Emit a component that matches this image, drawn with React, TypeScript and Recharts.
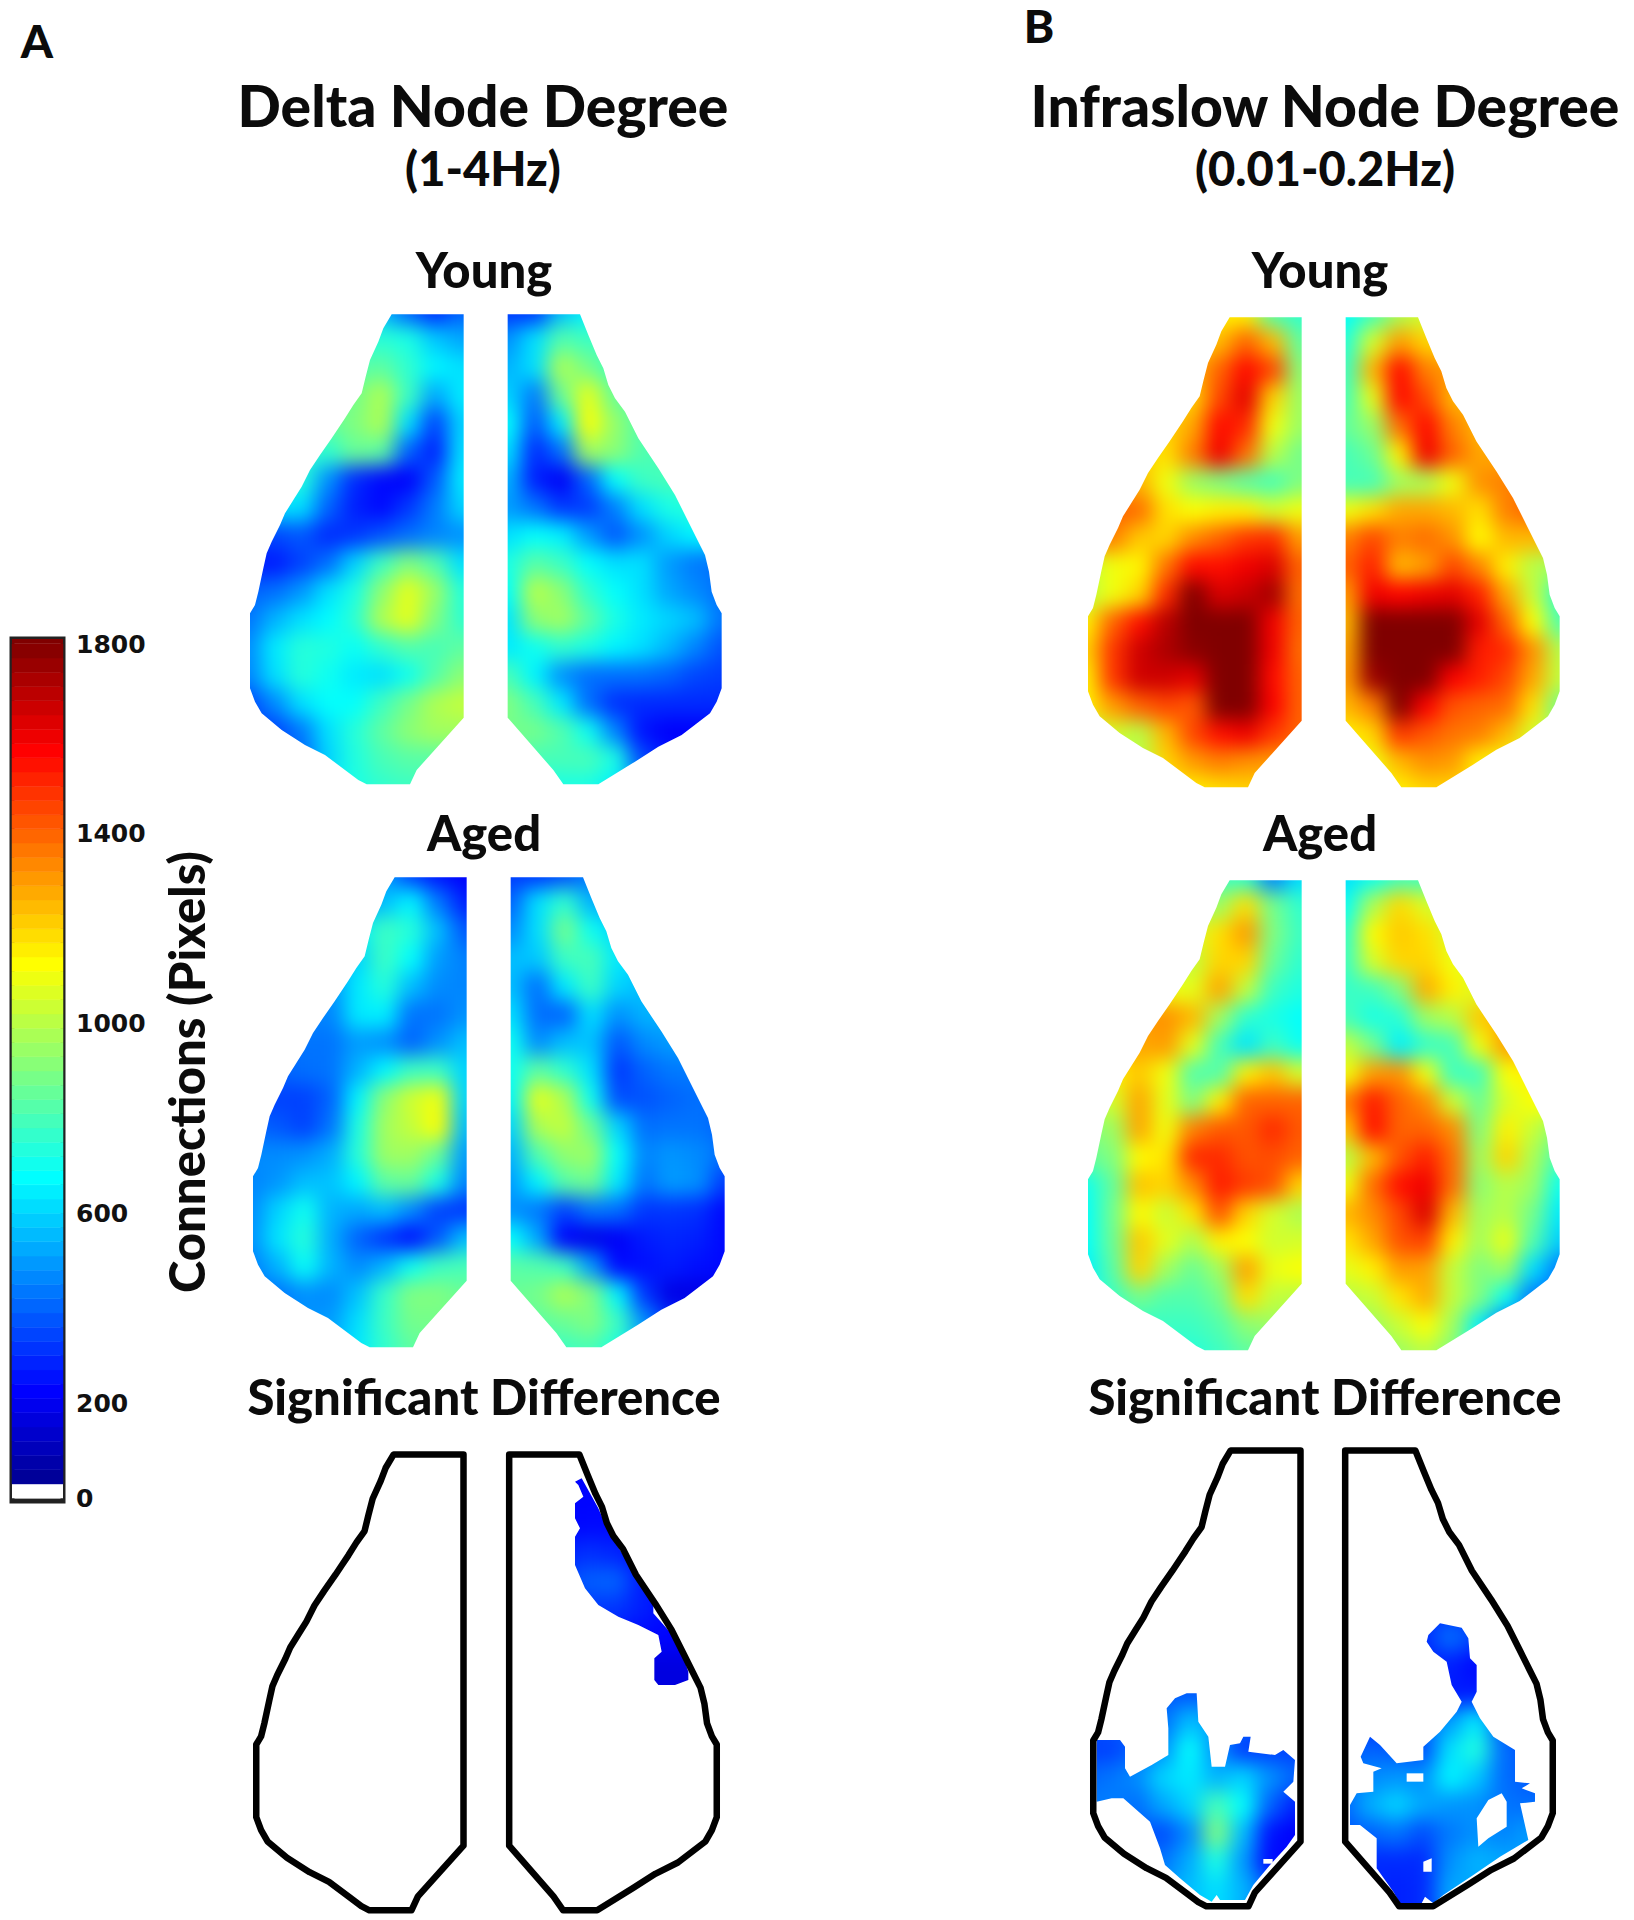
import { Bar, BarChart, ReferenceArea, Scatter, ScatterChart, XAxis, YAxis } from "recharts";

// grid of the heat maps, in 1/3 px units of one map frame
const rowYs = [20, 104, 188, 272, 356, 440, 524, 608, 692, 776, 860, 944, 1028, 1112, 1196, 1280, 1364, 1448];
const leftCols = [10, 90, 170, 250, 330, 410, 490, 570, 650];
const rightCols = [790, 870, 950, 1030, 1110, 1190, 1270, 1350, 1430];

const leftOutlineX = [440, 656, 656, 515, 495, 365, 340, 300, 240, 180, 110, 50, 30, 15, 15, 30, 40, 55, 65, 80, 105, 120, 145, 170, 195, 225, 260, 280, 300, 325, 350, 362, 375, 400, 415, 440];
const leftOutlineY = [28, 28, 1238, 1395, 1438, 1438, 1425, 1395, 1350, 1320, 1275, 1225, 1190, 1150, 925, 900, 860, 790, 745, 710, 660, 625, 585, 545, 495, 450, 400, 370, 340, 300, 265, 215, 165, 110, 70, 28];
const rightOutlineX = [788, 1005, 1030, 1055, 1075, 1090, 1110, 1140, 1180, 1240, 1290, 1330, 1360, 1380, 1392, 1400, 1415, 1430, 1430, 1415, 1395, 1310, 1240, 1170, 1060, 955, 925, 788, 788];
const rightOutlineY = [28, 28, 90, 150, 190, 240, 280, 320, 400, 490, 570, 650, 710, 750, 800, 860, 900, 925, 1150, 1190, 1225, 1290, 1325, 1370, 1438, 1438, 1395, 1238, 28];

const deltaYoungLeft = [
  [600, 600, 600, 600, 600, 550, 400, 300, 400],
  [700, 700, 700, 700, 700, 750, 720, 580, 520],
  [800, 800, 800, 800, 820, 840, 760, 660, 620],
  [850, 850, 850, 850, 880, 980, 780, 520, 640],
  [850, 850, 850, 850, 900, 980, 620, 340, 600],
  [750, 750, 750, 760, 860, 840, 400, 280, 620],
  [700, 700, 740, 480, 300, 240, 220, 380, 640],
  [620, 620, 620, 400, 280, 240, 320, 440, 600],
  [350, 350, 380, 300, 320, 370, 420, 460, 480],
  [280, 270, 340, 420, 600, 780, 900, 820, 620],
  [400, 420, 490, 620, 720, 920, 1080, 950, 740],
  [430, 540, 620, 670, 750, 980, 1080, 900, 760],
  [470, 640, 740, 730, 690, 760, 820, 800, 840],
  [460, 620, 740, 700, 640, 620, 700, 820, 920],
  [350, 470, 620, 680, 680, 780, 880, 980, 1020],
  [320, 340, 440, 620, 740, 840, 920, 960, 960],
  [400, 400, 400, 600, 730, 800, 830, 830, 830],
  [600, 600, 600, 640, 720, 760, 780, 780, 780],
];
const deltaYoungRight = [
  [320, 320, 560, 660, 660, 660, 660, 660, 660],
  [480, 620, 820, 780, 780, 780, 780, 780, 780],
  [540, 620, 980, 880, 780, 780, 780, 780, 780],
  [600, 440, 860, 1080, 860, 800, 800, 800, 800],
  [680, 380, 640, 1120, 940, 820, 800, 800, 800],
  [620, 300, 420, 960, 920, 820, 800, 800, 800],
  [540, 280, 210, 400, 680, 780, 800, 780, 780],
  [500, 430, 320, 330, 450, 620, 720, 740, 740],
  [620, 680, 650, 500, 380, 480, 600, 660, 660],
  [720, 830, 780, 680, 620, 620, 500, 440, 420],
  [680, 1000, 920, 760, 680, 620, 520, 470, 420],
  [630, 920, 960, 840, 720, 640, 600, 560, 430],
  [640, 700, 760, 720, 660, 620, 550, 460, 370],
  [800, 660, 480, 420, 420, 420, 400, 350, 330],
  [900, 800, 640, 420, 310, 300, 300, 300, 300],
  [880, 880, 820, 700, 460, 260, 220, 220, 220],
  [800, 800, 800, 800, 720, 360, 260, 260, 260],
  [700, 700, 720, 720, 650, 500, 400, 400, 400],
];
const deltaAgedLeft = [
  [500, 500, 500, 500, 500, 500, 340, 260, 220],
  [500, 500, 500, 500, 500, 560, 660, 440, 280],
  [600, 600, 600, 600, 640, 780, 740, 560, 380],
  [520, 520, 520, 520, 600, 780, 680, 500, 450],
  [480, 480, 480, 480, 640, 740, 560, 470, 460],
  [460, 460, 460, 460, 640, 650, 430, 430, 480],
  [430, 430, 430, 430, 500, 480, 400, 480, 560],
  [400, 400, 420, 430, 540, 660, 780, 780, 600],
  [340, 340, 340, 400, 660, 920, 1040, 1100, 600],
  [400, 380, 340, 430, 720, 960, 1020, 1120, 560],
  [470, 470, 480, 530, 740, 950, 960, 860, 500],
  [460, 490, 560, 570, 660, 840, 860, 720, 460],
  [470, 600, 700, 540, 520, 560, 470, 340, 320],
  [480, 630, 740, 530, 400, 320, 250, 380, 560],
  [450, 540, 690, 540, 470, 540, 700, 780, 800],
  [420, 430, 480, 470, 570, 770, 900, 900, 860],
  [480, 480, 480, 500, 620, 780, 880, 880, 880],
  [520, 520, 520, 540, 640, 760, 840, 840, 840],
];
const deltaAgedRight = [
  [330, 320, 360, 440, 440, 440, 440, 440, 440],
  [400, 620, 760, 540, 500, 500, 500, 500, 500],
  [470, 620, 880, 700, 600, 600, 600, 600, 600],
  [560, 580, 780, 800, 640, 600, 600, 600, 600],
  [560, 420, 640, 780, 600, 560, 560, 560, 560],
  [620, 420, 400, 620, 480, 540, 540, 540, 540],
  [700, 470, 560, 570, 380, 470, 500, 500, 500],
  [700, 840, 760, 620, 320, 400, 440, 440, 440],
  [660, 1080, 980, 700, 360, 370, 400, 420, 420],
  [600, 980, 1020, 860, 600, 420, 430, 430, 400],
  [540, 820, 930, 950, 680, 460, 490, 470, 420],
  [500, 660, 830, 870, 640, 430, 500, 480, 330],
  [480, 440, 340, 430, 420, 320, 320, 310, 240],
  [680, 520, 220, 190, 210, 270, 290, 280, 240],
  [830, 820, 780, 500, 240, 250, 270, 250, 240],
  [860, 880, 980, 900, 660, 320, 180, 180, 180],
  [840, 840, 860, 900, 780, 480, 300, 300, 300],
  [760, 760, 780, 800, 720, 560, 420, 420, 420],
];
const infraYoungLeft = [
  [1150, 1150, 1150, 1150, 1150, 1150, 1150, 830, 760],
  [1200, 1200, 1200, 1200, 1200, 1250, 1400, 1250, 850],
  [1250, 1250, 1250, 1250, 1250, 1400, 1560, 1450, 920],
  [1200, 1200, 1200, 1200, 1200, 1450, 1620, 1200, 950],
  [1200, 1200, 1200, 1200, 1280, 1560, 1500, 1100, 950],
  [1200, 1200, 1200, 1180, 1350, 1600, 1380, 1000, 880],
  [1250, 1250, 1260, 1100, 950, 900, 840, 800, 900],
  [1400, 1400, 1380, 1180, 1120, 1150, 1150, 1050, 1100],
  [1350, 1350, 1220, 1200, 1330, 1400, 1480, 1500, 1300],
  [1000, 1100, 1140, 1370, 1560, 1550, 1600, 1640, 1400],
  [1000, 1100, 1200, 1500, 1800, 1640, 1670, 1740, 1380],
  [1150, 1400, 1550, 1700, 1800, 1800, 1800, 1600, 1400],
  [1200, 1480, 1660, 1720, 1780, 1800, 1800, 1600, 1380],
  [1150, 1480, 1660, 1660, 1620, 1800, 1800, 1560, 1400],
  [1150, 1300, 1400, 1450, 1420, 1800, 1800, 1580, 1400],
  [1000, 1050, 1000, 1250, 1450, 1550, 1600, 1480, 1400],
  [1000, 1000, 1000, 1200, 1300, 1350, 1320, 1300, 1300],
  [1150, 1150, 1150, 1150, 1150, 1180, 1200, 1200, 1200],
];
const infraYoungRight = [
  [680, 800, 980, 1050, 1050, 1050, 1050, 1050, 1050],
  [740, 1050, 1300, 1200, 1200, 1200, 1200, 1200, 1200],
  [780, 1250, 1560, 1350, 1300, 1300, 1300, 1300, 1300],
  [800, 1080, 1560, 1450, 1250, 1250, 1250, 1250, 1250],
  [850, 940, 1380, 1560, 1350, 1250, 1250, 1250, 1250],
  [800, 860, 1150, 1600, 1400, 1280, 1280, 1280, 1280],
  [800, 800, 960, 980, 1100, 1320, 1350, 1350, 1350],
  [1100, 1180, 1280, 1280, 1250, 1180, 1350, 1400, 1400],
  [1350, 1450, 1350, 1380, 1320, 1130, 1250, 1250, 1250],
  [1400, 1520, 1250, 1300, 1450, 1340, 1150, 1000, 950],
  [1300, 1600, 1570, 1600, 1620, 1520, 1280, 1030, 750],
  [1250, 1800, 1800, 1800, 1800, 1620, 1400, 1120, 820],
  [1280, 1800, 1800, 1800, 1800, 1530, 1500, 1320, 1000],
  [1300, 1750, 1800, 1800, 1580, 1520, 1450, 1280, 1020],
  [1250, 1350, 1800, 1580, 1430, 1400, 1380, 1180, 880],
  [1150, 1200, 1480, 1420, 1370, 1350, 1250, 1050, 950],
  [1100, 1100, 1250, 1320, 1300, 1150, 1100, 1100, 1100],
  [1100, 1100, 1150, 1200, 1200, 1150, 1100, 1100, 1100],
];
const infraAgedLeft = [
  [780, 780, 780, 780, 780, 780, 760, 450, 620],
  [950, 950, 950, 950, 950, 950, 1180, 880, 760],
  [1050, 1050, 1050, 1050, 1050, 1180, 1300, 900, 780],
  [1000, 1000, 1000, 1000, 1020, 1200, 1200, 860, 760],
  [1100, 1100, 1100, 1100, 1080, 1280, 1020, 780, 730],
  [1300, 1300, 1300, 1320, 1250, 960, 760, 720, 680],
  [1280, 1280, 1280, 1300, 1080, 800, 630, 780, 700],
  [1150, 1150, 1220, 1100, 820, 820, 1150, 1230, 1050],
  [1000, 1050, 1280, 1080, 900, 1150, 1400, 1400, 1400],
  [900, 950, 1280, 1100, 1350, 1420, 1420, 1500, 1420],
  [850, 900, 1130, 1170, 1500, 1500, 1430, 1440, 1400],
  [700, 850, 1230, 1200, 1330, 1530, 1470, 1430, 1200],
  [680, 870, 1130, 1030, 1170, 1430, 1200, 1050, 980],
  [680, 860, 1220, 1080, 980, 1150, 1120, 1040, 1050],
  [650, 830, 1200, 960, 860, 960, 1290, 1090, 1120],
  [700, 780, 880, 820, 820, 880, 1180, 1020, 1000],
  [760, 760, 760, 780, 780, 820, 920, 950, 950],
  [720, 720, 720, 740, 740, 780, 840, 840, 840],
];
const infraAgedRight = [
  [620, 700, 790, 780, 780, 780, 780, 780, 780],
  [690, 980, 1190, 1060, 1000, 1000, 1000, 1000, 1000],
  [760, 1130, 1220, 1180, 1050, 1050, 1050, 1050, 1050],
  [780, 1050, 1200, 1200, 1100, 1050, 1050, 1050, 1050],
  [770, 790, 900, 1270, 1150, 1060, 1060, 1060, 1060],
  [800, 720, 750, 950, 1000, 1220, 1260, 1260, 1260],
  [1020, 880, 650, 770, 800, 1100, 1300, 1300, 1300],
  [1100, 1300, 1320, 1100, 780, 790, 1120, 1150, 1150],
  [1350, 1530, 1400, 1330, 1040, 860, 1050, 1120, 1120],
  [1230, 1550, 1400, 1400, 1330, 900, 1150, 1030, 900],
  [1000, 1250, 1430, 1520, 1380, 950, 1200, 980, 800],
  [1100, 1380, 1550, 1600, 1380, 920, 1000, 950, 700],
  [1250, 1330, 1450, 1640, 1250, 960, 1000, 880, 640],
  [1170, 1280, 1430, 1460, 1150, 960, 1090, 820, 590],
  [1080, 1150, 1300, 1290, 1020, 900, 950, 620, 440],
  [1000, 1030, 1170, 1270, 1020, 900, 700, 430, 430],
  [950, 950, 1030, 1120, 960, 650, 400, 400, 400],
  [900, 900, 950, 1000, 900, 700, 600, 600, 600],
];

// significant difference maps
const deltaDiffRight = [
  [230, 230, 230, 230, 230, 230, 230, 230, 230],
  [230, 230, 230, 230, 230, 230, 230, 230, 230],
  [230, 230, 230, 230, 230, 230, 230, 230, 230],
  [230, 230, 230, 240, 240, 230, 230, 230, 230],
  [280, 280, 280, 310, 290, 250, 230, 230, 230],
  [340, 340, 340, 390, 400, 280, 240, 230, 230],
  [300, 300, 300, 320, 320, 280, 240, 230, 230],
  [240, 240, 240, 240, 250, 240, 230, 230, 230],
  [170, 170, 170, 170, 170, 170, 170, 170, 170],
  [170, 170, 170, 170, 170, 170, 170, 170, 170],
  [170, 170, 170, 170, 170, 170, 170, 170, 170],
  [170, 170, 170, 170, 170, 170, 170, 170, 170],
  [170, 170, 170, 170, 170, 170, 170, 170, 170],
  [170, 170, 170, 170, 170, 170, 170, 170, 170],
  [170, 170, 170, 170, 170, 170, 170, 170, 170],
  [170, 170, 170, 170, 170, 170, 170, 170, 170],
  [170, 170, 170, 170, 170, 170, 170, 170, 170],
  [170, 170, 170, 170, 170, 170, 170, 170, 170],
];
const infraDiffLeft = [
  [300, 300, 300, 300, 300, 300, 300, 300, 300],
  [300, 300, 300, 300, 300, 300, 300, 300, 300],
  [300, 300, 300, 300, 300, 300, 300, 300, 300],
  [300, 300, 300, 300, 300, 300, 300, 300, 300],
  [300, 300, 300, 300, 300, 300, 300, 300, 300],
  [300, 300, 300, 300, 300, 300, 300, 300, 300],
  [300, 300, 300, 300, 300, 300, 300, 300, 300],
  [300, 300, 300, 300, 300, 300, 300, 300, 300],
  [350, 350, 350, 350, 350, 350, 350, 350, 350],
  [400, 400, 400, 380, 380, 380, 380, 380, 380],
  [380, 380, 400, 420, 560, 500, 400, 400, 400],
  [340, 340, 400, 480, 680, 480, 330, 340, 340],
  [400, 430, 470, 600, 640, 540, 600, 480, 400],
  [440, 450, 420, 520, 600, 800, 680, 400, 280],
  [400, 400, 380, 360, 470, 900, 560, 260, 220],
  [420, 420, 420, 430, 530, 720, 500, 240, 240],
  [500, 500, 500, 500, 560, 620, 540, 400, 400],
  [500, 500, 500, 500, 560, 620, 540, 400, 400],
];
const infraDiffRight = [
  [300, 300, 300, 300, 300, 300, 300, 300, 300],
  [300, 300, 300, 300, 300, 300, 300, 300, 300],
  [300, 300, 300, 300, 300, 300, 300, 300, 300],
  [300, 300, 300, 300, 300, 300, 300, 300, 300],
  [300, 300, 300, 300, 300, 300, 300, 300, 300],
  [300, 300, 300, 300, 300, 300, 300, 300, 300],
  [300, 300, 300, 300, 300, 300, 300, 300, 300],
  [300, 300, 300, 300, 420, 340, 300, 300, 300],
  [280, 280, 280, 280, 280, 240, 260, 280, 280],
  [280, 280, 280, 280, 270, 270, 280, 280, 280],
  [300, 300, 300, 400, 500, 640, 360, 300, 300],
  [380, 400, 380, 360, 620, 730, 420, 360, 360],
  [420, 470, 490, 480, 660, 580, 420, 380, 380],
  [400, 530, 600, 520, 490, 480, 430, 420, 420],
  [380, 400, 430, 360, 440, 480, 460, 500, 500],
  [300, 300, 300, 300, 480, 540, 520, 500, 500],
  [300, 300, 280, 300, 520, 520, 520, 520, 520],
  [300, 300, 280, 300, 520, 520, 520, 520, 520],
];

const deltaPatchX = [990, 1010, 1060, 1090, 1160, 1225, 1225, 1300, 1330, 1330, 1290, 1240, 1228, 1228, 1250, 1240, 1180, 1120, 1060, 1020, 990, 990, 1005, 990, 990, 1015, 1000];
const deltaPatchY = [140, 130, 220, 290, 400, 500, 535, 620, 710, 735, 750, 750, 735, 670, 650, 600, 570, 545, 510, 460, 390, 305, 280, 250, 205, 185, 150];
const infraPatchLeftX = [50, 120, 135, 135, 150, 215, 265, 265, 260, 285, 320, 350, 355, 385, 395, 435, 450, 480, 490, 512, 505, 585, 610, 645, 640, 610, 645, 645, 620, 570, 520, 495, 420, 410, 395, 360, 300, 255, 240, 210, 130, 95, 50];
const infraPatchLeftY = [915, 915, 935, 1000, 1025, 990, 960, 880, 820, 790, 775, 775, 860, 905, 995, 995, 930, 925, 905, 905, 950, 960, 945, 975, 1040, 1070, 1100, 1200, 1235, 1290, 1350, 1395, 1395, 1380, 1400, 1380, 1330, 1290, 1240, 1160, 1090, 1090, 1100];
const infraPatchRightX = [1080, 1145, 1165, 1170, 1190, 1190, 1175, 1200, 1240, 1305, 1305, 1350, 1325, 1365, 1365, 1320, 1345, 1260, 1180, 1090, 1060, 1035, 1025, 960, 940, 890, 890, 840, 810, 810, 830, 880, 880, 905, 850, 842, 870, 900, 950, 1030, 1030, 1080, 1130, 1145, 1115, 1100, 1060, 1040, 1045];
const infraPatchRightY = [565, 578, 610, 670, 690, 770, 800, 850, 905, 945, 1040, 1045, 1060, 1075, 1100, 1105, 1215, 1265, 1320, 1380, 1405, 1385, 1405, 1405, 1370, 1300, 1210, 1170, 1170, 1110, 1075, 1070, 1010, 1000, 985, 965, 905, 930, 985, 975, 935, 890, 830, 800, 750, 680, 650, 620, 600];
const holeAX = [550, 578, 578, 550];
const holeAY = [1272, 1272, 1286, 1286];
const holeBX = [980, 1030, 1030, 980];
const holeBY = [1015, 1015, 1040, 1040];
const holeCX = [1190, 1225, 1265, 1280, 1280, 1225, 1195];
const holeCY = [1150, 1095, 1075, 1100, 1175, 1210, 1235];
const holeDX = [1030, 1055, 1055, 1030];
const holeDY = [1280, 1270, 1310, 1310];

const colorTicks = [0, 200, 600, 1000, 1400, 1800];
const colorBands = [
  30, 60, 90, 120, 150, 180, 210, 240, 270, 300, 330, 360, 390, 420, 450, 480, 510, 540, 570, 600,
  630, 660, 690, 720, 750, 780, 810, 840, 870, 900, 930, 960, 990, 1020, 1050, 1080, 1110, 1140, 1170, 1200,
  1230, 1260, 1290, 1320, 1350, 1380, 1410, 1440, 1470, 1500, 1530, 1560, 1590, 1620, 1650, 1680, 1710, 1740, 1770,
];

const FRAME_MIN = -60;
const FRAME_MAX = 1500;
const FRAME_PX = 520;
const FONT = "Lato, 'Open Sans', sans-serif";

function jet(v: number): string {
  const t = Math.min(v, 1800) / 1800;
  const c = (x: number) => Math.round(255 * Math.max(0, Math.min(1, 1.5 - Math.abs(x))));
  return `rgb(${c(4 * t - 3)},${c(4 * t - 2)},${c(4 * t - 1)})`;
}

function toPoints(xs: number[], ys: number[]) {
  return xs.map((x, i) => ({ x, y: ys[i] }));
}

function pointList(props: any): string {
  return props.points.map((p: any) => `${p.x},${p.y}`).join(" ");
}

function NoDot() {
  return <g />;
}

function HeatCell(props: any) {
  const { cx, cy, payload } = props;
  const w = 80 / 3 + 1;
  const h = 84 / 3 + 1;
  // outer cells are grown outwards so the blur does not fade at the map edge
  const growL = payload.c === 0 ? 30 : 0;
  const growR = payload.c === 8 ? 30 : 0;
  const growT = payload.r === 0 ? 30 : 0;
  const growB = payload.r === rowYs.length - 1 ? 30 : 0;
  return (
    <rect
      x={cx - w / 2 - growL}
      y={cy - h / 2 - growT}
      width={w + growL + growR}
      height={h + growT + growB}
      fill={jet(payload.v)}
    />
  );
}

function FrameChart({ size, children }: { size: number; children: React.ReactNode }) {
  return (
    <ScatterChart width={size} height={size} margin={{ top: 0, right: 0, bottom: 0, left: 0 }}>
      <XAxis type="number" dataKey="x" domain={[FRAME_MIN, FRAME_MAX]} hide />
      <YAxis type="number" dataKey="y" domain={[FRAME_MIN, FRAME_MAX]} reversed hide />
      {children}
    </ScatterChart>
  );
}

interface HeatProps {
  id: string;
  x: number;
  y: number;
  grid: number[][];
  cols: number[];
  clipX: number[];
  clipY: number[];
}

// grid cells blurred together, then cut to the hemisphere (or patch) shape
function Heat({ id, x, y, grid, cols, clipX, clipY }: HeatProps) {
  const cells = grid.flatMap((row, r) => row.map((v, c) => ({ x: cols[c], y: rowYs[r], v, r, c })));
  const left = x - 20;
  const top = y - 20;
  return (
    <>
      <div style={{ position: "absolute", left, top, width: FRAME_PX, height: FRAME_PX }}>
        <FrameChart size={FRAME_PX}>
          <Scatter
            data={toPoints(clipX, clipY)}
            shape={NoDot}
            isAnimationActive={false}
            line={(p: any) => (
              <clipPath id={id}>
                <polygon points={pointList(p)} />
              </clipPath>
            )}
          />
        </FrameChart>
      </div>
      <div style={{ position: "absolute", left, top, width: FRAME_PX, height: FRAME_PX, clipPath: `url(#${id})` }}>
        <div style={{ filter: "blur(10px)" }}>
          <FrameChart size={FRAME_PX}>
            <Scatter data={cells} shape={HeatCell} isAnimationActive={false} />
          </FrameChart>
        </div>
      </div>
    </>
  );
}

function Outline({ x, y, xs, ys, scale }: { x: number; y: number; xs: number[]; ys: number[]; scale: number }) {
  return (
    <div style={{ position: "absolute", left: x, top: y }}>
      <FrameChart size={FRAME_PX * scale}>
        <Scatter
          data={toPoints(xs, ys)}
          shape={NoDot}
          isAnimationActive={false}
          line={(p: any) => (
            <polygon points={pointList(p)} fill="none" stroke="#000" strokeWidth={6.5} strokeLinejoin="round" />
          )}
        />
      </FrameChart>
    </div>
  );
}

function Hole({ x, y, xs, ys }: { x: number; y: number; xs: number[]; ys: number[] }) {
  return (
    <div style={{ position: "absolute", left: x - 20, top: y - 20 }}>
      <FrameChart size={FRAME_PX}>
        <Scatter
          data={toPoints(xs, ys)}
          shape={NoDot}
          isAnimationActive={false}
          line={(p: any) => <polygon points={pointList(p)} fill="#fff" />}
        />
      </FrameChart>
    </div>
  );
}

function Label({ text, cx, base, size }: { text: string; cx: number; base: number; size: number }) {
  return (
    <div
      style={{
        position: "absolute",
        left: cx - 400,
        top: base - size * 0.875,
        width: 800,
        textAlign: "center",
        fontFamily: FONT,
        fontWeight: 900,
        fontSize: size,
        lineHeight: `${size}px`,
        color: "#0b0b0b",
        whiteSpace: "nowrap",
      }}
    >
      {text}
    </div>
  );
}

function ColorBar() {
  const row: Record<string, number | string> = { name: "scale", white: 30, top: 10 };
  colorBands.forEach((b) => {
    row[`b${b}`] = 30;
  });
  return (
    <div style={{ position: "absolute", left: 0, top: 600 }}>
      <BarChart width={180} height={920} data={[row]} barCategoryGap={0} margin={{ top: 39, right: 0, bottom: 19, left: 12 }}>
        <XAxis dataKey="name" hide />
        <YAxis
          orientation="right"
          width={117}
          domain={[-6, 1810]}
          ticks={colorTicks}
          interval={0}
          axisLine={false}
          tickLine={false}
          tickMargin={7}
          tick={{ fill: "#111", fontSize: 25, fontWeight: 700, fontFamily: "DejaVu Sans" }}
        />
        <Bar dataKey="white" stackId="a" fill="#fff" isAnimationActive={false} />
        {colorBands.map((b) => (
          <Bar key={b} dataKey={`b${b}`} stackId="a" fill={jet(b + 15)} stroke={jet(b + 15)} strokeWidth={0.5} isAnimationActive={false} />
        ))}
        <Bar dataKey="top" stackId="a" fill={jet(1800)} isAnimationActive={false} />
        <ReferenceArea y1={-6} y2={1810} fill="none" stroke="#222" strokeWidth={5} ifOverflow="visible" />
      </BarChart>
    </div>
  );
}

export default function App() {
  return (
    <div style={{ position: "relative", width: 1634, height: 1920, background: "#fff", overflow: "hidden" }}>
      <style>{"body{margin:0}"}</style>

      <Label text="A" cx={37} base={58} size={46} />
      <Label text="B" cx={1039} base={43} size={46} />
      <Label text="Delta Node Degree" cx={483} base={127} size={57} />
      <Label text="(1-4Hz)" cx={483} base={186} size={47} />
      <Label text="Young" cx={484} base={288} size={49} />
      <Label text="Aged" cx={484} base={851} size={49} />
      <Label text="Significant Difference" cx={484} base={1415} size={49} />
      <Label text="Infraslow Node Degree" cx={1325} base={127} size={57} />
      <Label text="(0.01-0.2Hz)" cx={1325} base={186} size={47} />
      <Label text="Young" cx={1320} base={288} size={49} />
      <Label text="Aged" cx={1320} base={851} size={49} />
      <Label text="Significant Difference" cx={1325} base={1415} size={49} />

      <ColorBar />
      <div
        style={{
          position: "absolute",
          left: 186 - 300,
          top: 1072 - 30,
          width: 600,
          textAlign: "center",
          transform: "rotate(-90deg)",
          fontFamily: FONT,
          fontWeight: 900,
          fontSize: 49,
          lineHeight: "60px",
          color: "#0b0b0b",
          whiteSpace: "nowrap",
        }}
      >
        Connections (Pixels)
      </div>

      <Heat id="dyl" x={245} y={305} grid={deltaYoungLeft} cols={leftCols} clipX={leftOutlineX} clipY={leftOutlineY} />
      <Heat id="dyr" x={245} y={305} grid={deltaYoungRight} cols={rightCols} clipX={rightOutlineX} clipY={rightOutlineY} />
      <Heat id="dal" x={248} y={868} grid={deltaAgedLeft} cols={leftCols} clipX={leftOutlineX} clipY={leftOutlineY} />
      <Heat id="dar" x={248} y={868} grid={deltaAgedRight} cols={rightCols} clipX={rightOutlineX} clipY={rightOutlineY} />
      <Heat id="iyl" x={1083} y={308} grid={infraYoungLeft} cols={leftCols} clipX={leftOutlineX} clipY={leftOutlineY} />
      <Heat id="iyr" x={1083} y={308} grid={infraYoungRight} cols={rightCols} clipX={rightOutlineX} clipY={rightOutlineY} />
      <Heat id="ial" x={1083} y={871} grid={infraAgedLeft} cols={leftCols} clipX={leftOutlineX} clipY={leftOutlineY} />
      <Heat id="iar" x={1083} y={871} grid={infraAgedRight} cols={rightCols} clipX={rightOutlineX} clipY={rightOutlineY} />

      <Heat id="ddr" x={245} y={1435} grid={deltaDiffRight} cols={rightCols} clipX={deltaPatchX} clipY={deltaPatchY} />
      <Heat id="idl" x={1080} y={1435} grid={infraDiffLeft} cols={leftCols} clipX={infraPatchLeftX} clipY={infraPatchLeftY} />
      <Heat id="idr" x={1080} y={1435} grid={infraDiffRight} cols={rightCols} clipX={infraPatchRightX} clipY={infraPatchRightY} />
      <Hole x={1080} y={1435} xs={holeAX} ys={holeAY} />
      <Hole x={1080} y={1435} xs={holeBX} ys={holeBY} />
      <Hole x={1080} y={1435} xs={holeCX} ys={holeCY} />
      <Hole x={1080} y={1435} xs={holeDX} ys={holeDY} />

      <Outline x={232.4} y={1425.6} xs={leftOutlineX} ys={leftOutlineY} scale={0.97} />
      <Outline x={235} y={1425.6} xs={rightOutlineX} ys={rightOutlineY} scale={0.97} />
      <Outline x={1069} y={1421.6} xs={leftOutlineX} ys={leftOutlineY} scale={0.97} />
      <Outline x={1070.6} y={1421.6} xs={rightOutlineX} ys={rightOutlineY} scale={0.97} />
    </div>
  );
}
